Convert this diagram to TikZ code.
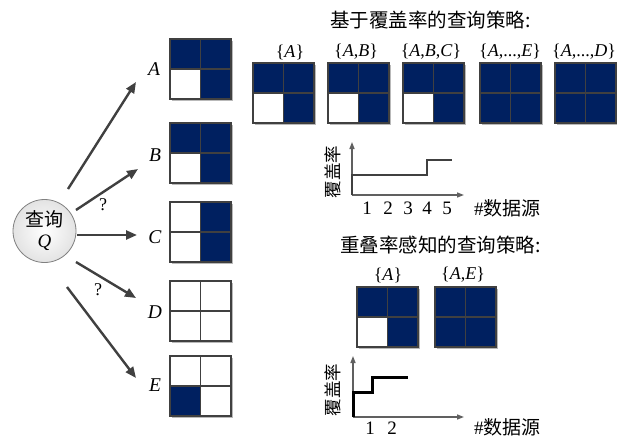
\documentclass[tikz,border=0pt]{standalone}
\usepackage{fontspec}
\setmainfont{Liberation Serif}
\newfontfamily\cjk{Noto Sans CJK SC}
\usetikzlibrary{arrows.meta,shadings}
\definecolor{navy}{RGB}{0,32,96}
\definecolor{edgegray}{RGB}{64,64,64}
\definecolor{axisgray}{RGB}{96,96,96}
\newcommand\cellgrid[6]{%
  \begin{scope}[shift={(#1,#2)}]
    \fill[gray!55] (2,2) rectangle (63,62);
    \fill[#3] (0,0) rectangle (30.5,30);
    \fill[#4] (30.5,0) rectangle (61,30);
    \fill[#5] (0,30) rectangle (30.5,60);
    \fill[#6] (30.5,30) rectangle (61,60);
    \draw[gridline] (0,0) rectangle (61,60);
    \draw[gridline] (30.5,0) -- (30.5,60);
    \draw[gridline] (0,30) -- (61,30);
  \end{scope}}
\tikzset{
  gridline/.style={draw=edgegray, line width=1.3pt},
  conn/.style={draw=edgegray, line width=2.4pt, -{Triangle[length=11pt,width=9pt]}},
  axisline/.style={draw=axisgray, line width=1.4pt, -{Triangle[length=7pt,width=5pt]}},
  srclabel/.style={font=\fontsize{19.5}{20}\selectfont\itshape},
  setlabel/.style={font=\fontsize{18}{18}\selectfont},
  cjktitle/.style={font=\cjk\fontsize{19.5}{20}\selectfont, anchor=west, inner sep=0},
  ticklabel/.style={font=\fontsize{19}{19}\selectfont, inner sep=0},
  ylab/.style={font=\cjk\fontsize{17.5}{18}\selectfont, rotate=90, inner sep=0},
  xlab/.style={font=\fontsize{19}{19}\selectfont, anchor=west, inner sep=0},
  qmark/.style={font=\fontsize{18}{18}\selectfont, inner sep=0}
}
\begin{document}
\begin{tikzpicture}[x=1pt,y=-1pt]
\useasboundingbox (0,0) rectangle (617,439);
\fill[white] (0,0) rectangle (617,439);

% query circle
\node[circle, draw=gray, line width=0.8pt, minimum size=63pt, inner sep=0,
      inner color=white, outer color=gray!22, align=center,
      font=\fontsize{19}{21}\selectfont] (q) at (44.5,231)
      {{\cjk 查询}\\\textit{Q}};

% source labels
\node[srclabel] (la) at (154,69) {A};
\node[srclabel] (lb) at (155,155) {B};
\node[srclabel] (lc) at (155,237) {C};
\node[srclabel] (ld) at (155,312) {D};
\node[srclabel] (le) at (155,385) {E};

% arrows
\coordinate (sA) at (68,189);  \coordinate (eA) at (136,82);
\coordinate (sB) at (76,210);  \coordinate (eB) at (138,169);
\coordinate (sC) at (77,235);  \coordinate (eC) at (137,235);
\coordinate (sD) at (76,262);  \coordinate (eD) at (136,298);
\coordinate (sE) at (67,287);  \coordinate (eE) at (136,378);
\draw[conn] (sA) -- (eA);
\draw[conn] (sB) -- (eB);
\draw[conn] (sC) -- (eC);
\draw[conn] (sD) -- (eD);
\draw[conn] (sE) -- (eE);
\node[qmark] (q1) at (103,205) {?};
\node[qmark] (q2) at (98,290) {?};

% left grids
\cellgrid{170}{39}{navy}{navy}{white}{navy}
\cellgrid{170}{123}{navy}{navy}{white}{navy}
\cellgrid{170}{202}{white}{navy}{white}{navy}
\cellgrid{170}{281}{white}{white}{white}{white}
\cellgrid{170}{356}{white}{white}{navy}{white}

% coverage-based strategy
\node[cjktitle] (t1) at (330,20) {基于覆盖率的查询策略:};
\node[setlabel] (s1) at (290,52) {\{\textit{A}\}};
\node[setlabel] (s2) at (356,52) {\{\textit{A},\textit{B}\}};
\node[setlabel] (s3) at (431,52) {\{\textit{A},\textit{B},\textit{C}\}};
\node[setlabel] (s4) at (510,52) {\{\textit{A},...,\textit{E}\}};
\node[setlabel] (s5) at (584,52) {\{\textit{A},...,\textit{D}\}};
\cellgrid{253}{63}{navy}{navy}{white}{navy}
\cellgrid{328}{63}{navy}{navy}{white}{navy}
\cellgrid{403}{63}{navy}{navy}{white}{navy}
\cellgrid{480}{63}{navy}{navy}{navy}{navy}
\cellgrid{555}{63}{navy}{navy}{navy}{navy}

% chart 1
\coordinate (o1) at (352,195);
\coordinate (x1) at (464,195);
\coordinate (y1) at (352,142);
\draw[axisline] (o1) -- (x1);
\draw[axisline] (o1) -- (y1);
\draw[edgegray, line width=2.5pt] (o1) -- (352,175) -- (427,175) -- (427,160) -- (452,160);
\node[ylab] (yl1) at (333,172) {覆盖率};
\node[ticklabel] (n1) at (367,208) {1};
\node[ticklabel] (n2) at (388,208) {2};
\node[ticklabel] (n3) at (408,208) {3};
\node[ticklabel] (n4) at (427,208) {4};
\node[ticklabel] (n5) at (447,208) {5};
\node[xlab] (xl1) at (474,208) {\#{\cjk 数据源}};

% overlap-aware strategy
\node[cjktitle] (t2) at (340,245) {重叠率感知的查询策略:};
\node[setlabel] (s6) at (388,275) {\{\textit{A}\}};
\node[setlabel] (s7) at (463,275) {\{\textit{A},\textit{E}\}};
\cellgrid{357}{287}{navy}{navy}{white}{navy}
\cellgrid{435}{287}{navy}{navy}{navy}{navy}

% chart 2
\coordinate (o2) at (353,417);
\coordinate (x2) at (464,417);
\coordinate (y2) at (353,356);
\draw[axisline] (o2) -- (x2);
\draw[axisline] (o2) -- (y2);
\draw[black, line width=3pt] (o2) -- (353,392) -- (372,392) -- (372,377) -- (408,377);
\node[ylab] (yl2) at (333,390) {覆盖率};
\node[ticklabel] (m1) at (370,428) {1};
\node[ticklabel] (m2) at (392,428) {2};
\node[xlab] (xl2) at (474,427) {\#{\cjk 数据源}};
\end{tikzpicture}
\end{document}
